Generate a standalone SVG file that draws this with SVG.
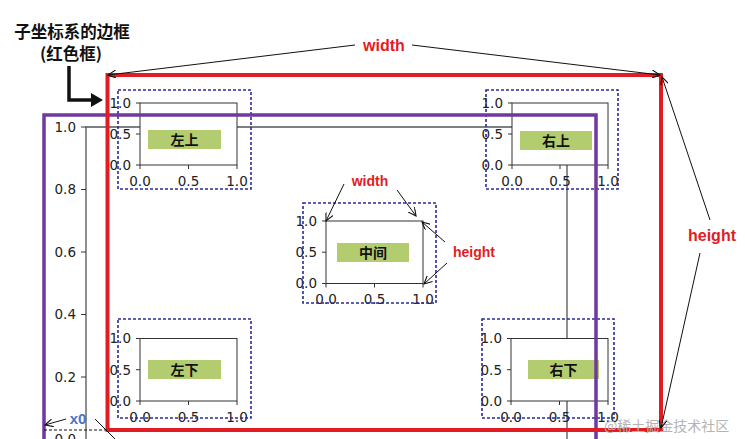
<svg xmlns="http://www.w3.org/2000/svg" width="745" height="439" viewBox="0 0 745 439">
<style>
.bg{fill:#ffffff}
.big{stroke:#555;stroke-width:1.3;fill:none}
.tick{stroke:#333;stroke-width:1}
.plot{fill:#ffffff;stroke:#333;stroke-width:1}
.dash{fill:none;stroke:#2a2a9a;stroke-width:1.6;stroke-dasharray:3 2}
.numr{font-family:"DejaVu Sans",sans-serif;font-size:13.5px;fill:#222;text-anchor:end}
.numc{font-family:"DejaVu Sans",sans-serif;font-size:13.5px;fill:#222;text-anchor:middle}
.lab{fill:#b3cc6f}
.labt{font-family:"Noto Sans CJK SC",sans-serif;font-size:14px;font-weight:bold;fill:#111;text-anchor:middle}
.red{font-family:"Liberation Sans","Noto Sans",sans-serif;font-weight:bold;fill:#e31b23;text-anchor:middle}
.ann{stroke:#111;stroke-width:1;fill:none}
.title{font-family:"Noto Sans CJK SC",sans-serif;font-size:16.5px;font-weight:bold;fill:#111;text-anchor:middle}
</style>
<defs>
<marker id="ah" markerUnits="userSpaceOnUse" markerWidth="10" markerHeight="8" refX="8" refY="4" orient="auto">
<path d="M0,0 L8,4 L0,8" fill="none" stroke="#111" stroke-width="1.1"/>
</marker>
</defs>
<rect class="bg" x="0" y="0" width="745" height="439"/>

<g id="big-axes">
<path class="big" d="M86,450 V127 H567 V450"/>
<g class="tick">
<line x1="81" y1="127" x2="86" y2="127"/>
<line x1="81" y1="189.5" x2="86" y2="189.5"/>
<line x1="81" y1="252" x2="86" y2="252"/>
<line x1="81" y1="314.5" x2="86" y2="314.5"/>
<line x1="81" y1="377" x2="86" y2="377"/>
<line x1="81" y1="439.5" x2="86" y2="439.5"/>
</g>
<text class="numr" x="76" y="131.9">1.0</text>
<text class="numr" x="76" y="194.4">0.8</text>
<text class="numr" x="76" y="256.9">0.6</text>
<text class="numr" x="76" y="319.4">0.4</text>
<text class="numr" x="76" y="381.9">0.2</text>
<text class="numr" x="76" y="444.4">0.0</text>
</g>

<g id="ax-left-top">
<rect class="plot" x="140" y="103" width="97" height="62"/>
<g class="tick">
<line x1="136" y1="103" x2="140" y2="103"/><line x1="136" y1="134" x2="140" y2="134"/><line x1="136" y1="165" x2="140" y2="165"/>
<line x1="140" y1="165" x2="140" y2="169"/><line x1="188.5" y1="165" x2="188.5" y2="169"/><line x1="237" y1="165" x2="237" y2="169"/>
</g>
<text class="numr" x="131" y="107.9">1.0</text><text class="numr" x="131" y="138.9">0.5</text><text class="numr" x="131" y="169.9">0.0</text>
<text class="numc" x="140" y="185.5">0.0</text><text class="numc" x="188.5" y="185.5">0.5</text><text class="numc" x="237" y="185.5">1.0</text>
<rect class="lab" x="148" y="130" width="73" height="19"/>
<text class="labt" x="184.5" y="144.8">左上</text>
<rect class="dash" x="118" y="90" width="133" height="99"/>
</g>

<g id="ax-right-top">
<rect class="plot" x="512" y="103" width="96" height="62"/>
<g class="tick">
<line x1="508" y1="103" x2="512" y2="103"/><line x1="508" y1="134" x2="512" y2="134"/><line x1="508" y1="165" x2="512" y2="165"/>
<line x1="512" y1="165" x2="512" y2="169"/><line x1="560" y1="165" x2="560" y2="169"/><line x1="608" y1="165" x2="608" y2="169"/>
</g>
<text class="numr" x="503" y="107.9">1.0</text><text class="numr" x="503" y="138.9">0.5</text><text class="numr" x="503" y="169.9">0.0</text>
<text class="numc" x="512" y="185.5">0.0</text><text class="numc" x="560" y="185.5">0.5</text><text class="numc" x="608" y="185.5">1.0</text>
<rect class="lab" x="520" y="131" width="72" height="19"/>
<text class="labt" x="556" y="145.8">右上</text>
<rect class="dash" x="486" y="90" width="132" height="99"/>
</g>

<g id="ax-middle">
<rect class="plot" x="326" y="221" width="97" height="62.5"/>
<g class="tick">
<line x1="322" y1="221" x2="326" y2="221"/><line x1="322" y1="252.2" x2="326" y2="252.2"/><line x1="322" y1="283.5" x2="326" y2="283.5"/>
<line x1="326" y1="283.5" x2="326" y2="287.5"/><line x1="374.5" y1="283.5" x2="374.5" y2="287.5"/><line x1="423" y1="283.5" x2="423" y2="287.5"/>
</g>
<text class="numr" x="317" y="225.9">1.0</text><text class="numr" x="317" y="257.1">0.5</text><text class="numr" x="317" y="288.4">0.0</text>
<text class="numc" x="326" y="304">0.0</text><text class="numc" x="374.5" y="304">0.5</text><text class="numc" x="423" y="304">1.0</text>
<rect class="lab" x="337" y="243" width="72" height="19"/>
<text class="labt" x="373" y="257.8">中间</text>
<rect class="dash" x="303" y="203" width="133" height="100"/>
</g>

<g id="ax-left-bottom">
<rect class="plot" x="140" y="338.5" width="97" height="62.5"/>
<g class="tick">
<line x1="136" y1="338.5" x2="140" y2="338.5"/><line x1="136" y1="369.7" x2="140" y2="369.7"/><line x1="136" y1="401" x2="140" y2="401"/>
<line x1="140" y1="401" x2="140" y2="405"/><line x1="188.5" y1="401" x2="188.5" y2="405"/><line x1="237" y1="401" x2="237" y2="405"/>
</g>
<text class="numr" x="131" y="343.4">1.0</text><text class="numr" x="131" y="374.6">0.5</text><text class="numr" x="131" y="405.9">0.0</text>
<text class="numc" x="140" y="421.5">0.0</text><text class="numc" x="188.5" y="421.5">0.5</text><text class="numc" x="237" y="421.5">1.0</text>
<rect class="lab" x="148" y="360" width="73" height="19"/>
<text class="labt" x="184.5" y="374.8">左下</text>
<rect class="dash" x="118" y="319" width="133" height="99"/>
</g>

<g id="ax-right-bottom">
<rect class="plot" x="511" y="338.5" width="97" height="62.5"/>
<g class="tick">
<line x1="507" y1="338.5" x2="511" y2="338.5"/><line x1="507" y1="369.7" x2="511" y2="369.7"/><line x1="507" y1="401" x2="511" y2="401"/>
<line x1="511" y1="401" x2="511" y2="405"/><line x1="559.5" y1="401" x2="559.5" y2="405"/><line x1="608" y1="401" x2="608" y2="405"/>
</g>
<text class="numr" x="502" y="343.4">1.0</text><text class="numr" x="502" y="374.6">0.5</text><text class="numr" x="502" y="405.9">0.0</text>
<text class="numc" x="511" y="421.5">0.0</text><text class="numc" x="559.5" y="421.5">0.5</text><text class="numc" x="608" y="421.5">1.0</text>
<rect class="lab" x="528" y="360" width="71" height="19"/>
<text class="labt" x="563.5" y="374.8">右下</text>
<rect class="dash" x="482" y="319" width="132" height="99"/>
</g>

<g id="purple-frame">
<path d="M44,450 V115 H596 V450" fill="none" stroke="#7038a0" stroke-width="3.5"/>
</g>

<g id="red-frame">
<rect x="107.5" y="75" width="553.5" height="355" fill="none" stroke="#e31b23" stroke-width="4"/>
</g>

<g id="title">
<text class="title" x="72" y="38">子坐标系的边框</text>
<text class="title" x="71" y="59.5">(红色框)</text>
</g>

<g id="labels">
<text class="red" x="384" y="51" font-size="16">width</text>
<text class="red" x="712" y="241" font-size="16">height</text>
<text class="red" x="370" y="186" font-size="14">width</text>
<text class="red" x="474" y="257" font-size="14">height</text>
<text x="78" y="424" font-family="Liberation Sans,sans-serif" font-size="15" font-weight="bold" fill="#4a72c4" text-anchor="middle">x0</text>
<text x="604" y="431" font-family="Noto Sans CJK SC,sans-serif" font-size="14" fill="#b4b4b4">@稀土掘金技术社区</text>
</g>

<g id="connectors">
<path d="M69,66 V100 H92" fill="none" stroke="#111" stroke-width="3.5"/>
<polygon points="91,93 103,100 91,107" fill="#111"/>
<line class="ann" x1="355" y1="45" x2="108" y2="75" marker-end="url(#ah)"/>
<line class="ann" x1="412" y1="45" x2="660" y2="75" marker-end="url(#ah)"/>
<line class="ann" x1="710" y1="220" x2="662" y2="77" marker-end="url(#ah)"/>
<line class="ann" x1="700" y1="253" x2="661" y2="428" marker-end="url(#ah)"/>
<line class="ann" x1="344" y1="184" x2="326" y2="221" marker-end="url(#ah)"/>
<line class="ann" x1="397" y1="190" x2="416" y2="216" marker-end="url(#ah)"/>
<line class="ann" x1="445" y1="242" x2="422" y2="222" marker-end="url(#ah)"/>
<line class="ann" x1="447" y1="263" x2="424" y2="284" marker-end="url(#ah)"/>
<line class="ann" x1="66" y1="419" x2="45" y2="425" marker-end="url(#ah)"/>
<line class="ann" x1="95" y1="419" x2="117" y2="441"/>
<line class="ann" x1="44" y1="430" x2="107" y2="430" stroke-dasharray="3 2"/>
</g>
</svg>
